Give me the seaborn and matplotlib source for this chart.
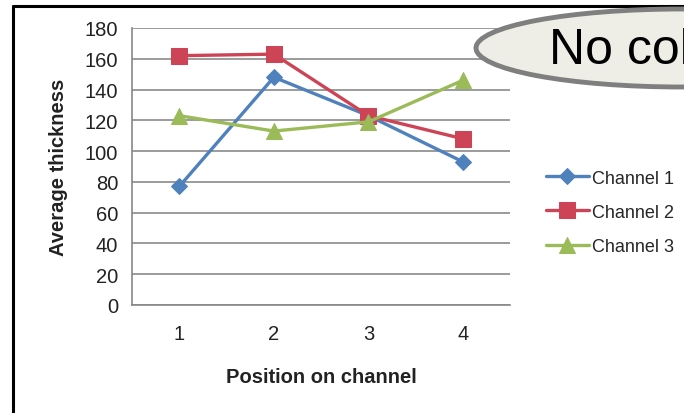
import matplotlib
matplotlib.use("Agg")
import matplotlib.pyplot as plt
from matplotlib.patches import Ellipse
from matplotlib.lines import Line2D
import seaborn as sns
import pandas as pd

# Average thickness measured at four positions along each channel
positions = [1, 2, 3, 4]
channel_1 = [77, 148, 123, 93]
channel_2 = [162, 163, 123, 108]
channel_3 = [123, 113, 119, 146]
series_names = ["Channel 1", "Channel 2", "Channel 3"]
y_ticks = [0, 20, 40, 60, 80, 100, 120, 140, 160, 180]

df = pd.DataFrame({
    "Position on channel": positions * 3,
    "Average thickness": channel_1 + channel_2 + channel_3,
    "Series": [series_names[0]] * 4 + [series_names[1]] * 4 + [series_names[2]] * 4,
})

sns.set_theme(style="white")
plt.rcParams["font.family"] = ["Liberation Sans", "DejaVu Sans"]

palette = {"Channel 1": "#4f81bd", "Channel 2": "#cc4455", "Channel 3": "#9bbb59"}
markers = {"Channel 1": "D", "Channel 2": "s", "Channel 3": "^"}
msizes = {"Channel 1": 8, "Channel 2": 11, "Channel 3": 11}

fig = plt.figure(figsize=(6.84, 4.14), dpi=100)
fig.patch.set_facecolor("white")
ax = fig.add_axes([0.193, 0.261, 0.553, 0.669])

for name in series_names:
    sub = df[df["Series"] == name]
    sns.lineplot(data=sub, x="Position on channel", y="Average thickness",
                 color=palette[name], marker=markers[name], markersize=msizes[name],
                 markeredgecolor=palette[name], linewidth=2.4, ax=ax,
                 label=name, legend=False)

ax.set_xlim(0.5, 4.5)
ax.set_ylim(0, 180)
ax.set_yticks(y_ticks)
ax.set_xticks(positions)
ax.set_xticks([0.5, 1.5, 2.5, 3.5, 4.5], minor=True)
ax.tick_params(axis="x", which="major", length=0, pad=14, labelsize=14.5,
               labelcolor="#222222")
ax.tick_params(axis="x", which="minor", length=5, width=1, color="#888888", direction="out")
ax.tick_params(axis="y", which="major", length=5, width=1, color="#888888",
               direction="out", labelsize=14.5, labelcolor="#222222", pad=5)

ax.grid(axis="y", color="#8a8a8a", linewidth=1.2)
ax.set_axisbelow(True)
for side in ["top", "right"]:
    ax.spines[side].set_visible(False)
for side in ["left", "bottom"]:
    ax.spines[side].set_color("#888888")
    ax.spines[side].set_linewidth(1.2)

ax.set_xlabel("Position on channel", fontsize=14.5, fontweight="bold",
              color="#222222", labelpad=17)
ax.set_ylabel("Average thickness", fontsize=14.5, fontweight="bold",
              color="#222222", labelpad=12)

handles, labels = ax.get_legend_handles_labels()
fig.legend(handles, labels, loc="center left", bbox_to_anchor=(0.787, 0.485),
           frameon=False, fontsize=13, handlelength=2.4, handletextpad=0.2,
           labelspacing=0.95, borderaxespad=0)

# Callout bubble at the top right
bubble = Ellipse((682 / 684, 1 - 49 / 414), 412 / 684, 78 / 414,
                 transform=fig.transFigure, facecolor="#eeeee6",
                 edgecolor="#7f7f7f", linewidth=3.5, zorder=5)
fig.add_artist(bubble)
fig.text(549 / 684, 1 - 51 / 414, "No collapse", fontsize=36, va="center",
         ha="left", color="black", zorder=6)

# Slide frame along the top and left edges
fig.add_artist(Line2D([13 / 684, 1], [1 - 7 / 414, 1 - 7 / 414],
                      transform=fig.transFigure, color="black", linewidth=2.2))
fig.add_artist(Line2D([13 / 684, 13 / 684], [0, 1 - 7 / 414],
                      transform=fig.transFigure, color="black", linewidth=2.2))

fig.savefig("out.png", dpi=100)
